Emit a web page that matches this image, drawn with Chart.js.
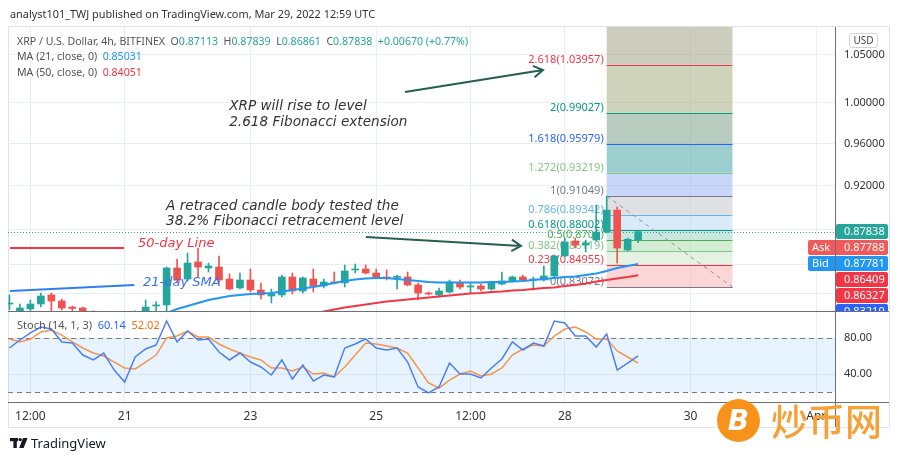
<!DOCTYPE html>
<html>
<head>
<meta charset="utf-8">
<script src="https://cdn.jsdelivr.net/npm/chart.js@4.4.1/dist/chart.umd.min.js"></script>
<style>
  body { margin: 0; width: 900px; height: 460px; position: relative; overflow: hidden; background: #fff; font-family: "Noto Sans", sans-serif; }
  canvas { position: absolute; left: 0; top: 0; }
  .t { position: absolute; white-space: nowrap; line-height: 14px; }
  .lg { font-size: 10.6px; color: #555; }
  .ln { position: absolute; background: #6b6e78; }
  #frame { position: absolute; left: 8px; top: 26px; width: 880px; height: 400px; border: 1px solid #e0e3eb; }
  #usd { position: absolute; left: 849px; top: 33px; width: 27px; height: 13px; border: 1px solid #d1d4dc; border-radius: 3px; font-size: 10px; line-height: 13px; text-align: center; color: #444; background: #fff; }
</style>
</head>
<body>
<div id="frame"></div>
<canvas id="main" width="900" height="460"></canvas>
<canvas id="stoch" width="900" height="460"></canvas>
<div class="ln" style="left:8px;top:311px;width:881px;height:1px"></div>
<div class="ln" style="left:8px;top:402px;width:881px;height:1px"></div>
<div class="ln" style="left:835px;top:27px;width:1px;height:400px"></div>

<div class="t" style="left:10px;top:7px;font-size:10.9px;color:#333">analyst101_TWJ published on TradingView.com, Mar 29, 2022 12:59 UTC</div>
<div class="t lg" id="leg1" style="left:17px;top:34px"></div>
<div class="t lg" id="leg2" style="left:17px;top:49px"></div>
<div class="t lg" id="leg3" style="left:17px;top:65px"></div>
<div class="t lg" id="leg4" style="left:17px;top:318px;font-size:11px"></div>
<div id="usd">USD</div>

<svg style="position:absolute;left:9px;top:436px" width="20" height="14" viewBox="0 0 20 14">
  <rect x="1" y="2" width="8" height="3.2" fill="#131722"/>
  <rect x="4.4" y="2" width="3.4" height="10" fill="#131722"/>
  <circle cx="11.2" cy="3.6" r="1.7" fill="#131722"/>
  <polygon points="14,2 18.6,2 14.6,12 10.2,12" fill="#131722"/>
</svg>
<div class="t" style="left:31px;top:436px;font-size:13px;color:#131722">TradingView</div>

<div style="position:absolute;left:717px;top:399px;width:43px;height:43px;border-radius:50%;background:#f7931a;color:#fff;font:italic bold 28px 'DejaVu Sans',sans-serif;line-height:43px;text-align:center">B</div>
<div class="t" style="left:771px;top:398px;font-size:37px;line-height:44px;color:#f7a035;font-family:'Noto Sans CJK SC';font-weight:500">炒币网</div>

<script>
// candles, 4h, first one Mar 19 04:00
const candleOpen = [0.8166, 0.8109, 0.8125, 0.8166, 0.8241, 0.8191, 0.8141, 0.8133, 0.8105, 0.8010,
  0.7960, 0.7880, 0.7970, 0.8060, 0.8150, 0.8158, 0.8468, 0.8374, 0.8519, 0.8468,
  0.8476, 0.8374, 0.8299, 0.8366, 0.8282, 0.8232, 0.8241, 0.8391, 0.8274, 0.8374,
  0.8316, 0.8349, 0.8341, 0.8451, 0.8459, 0.8425, 0.8391, 0.8387, 0.8391, 0.8324,
  0.8257, 0.8241, 0.8265, 0.8341, 0.8307, 0.8316, 0.8290, 0.8332, 0.8358, 0.8391,
  0.8366, 0.8366, 0.8400, 0.8571, 0.8701, 0.8666, 0.8710, 0.8780, 0.8977, 0.8623, 0.87113];
const candleHigh = [0.8241, 0.8166, 0.8199, 0.8257, 0.8257, 0.8207, 0.8150, 0.8141, 0.8110, 0.8040,
  0.7990, 0.7990, 0.8110, 0.8199, 0.8183, 0.8476, 0.8545, 0.8597, 0.8640, 0.8510,
  0.8571, 0.8417, 0.8425, 0.8459, 0.8341, 0.8290, 0.8408, 0.8425, 0.8391, 0.8459,
  0.8374, 0.8434, 0.8493, 0.8502, 0.8493, 0.8459, 0.8451, 0.8408, 0.8434, 0.8341,
  0.8265, 0.8299, 0.8366, 0.8366, 0.8341, 0.8332, 0.8349, 0.8434, 0.8400, 0.8408,
  0.8391, 0.8485, 0.8579, 0.8727, 0.8727, 0.8710, 0.9022, 0.9105, 0.9004, 0.8727, 0.87839];
const candleLow = [0.8117, 0.8101, 0.8109, 0.8141, 0.8109, 0.8117, 0.8109, 0.8084, 0.7980, 0.7930,
  0.7850, 0.7840, 0.7950, 0.8030, 0.8109, 0.8109, 0.8349, 0.8358, 0.8391, 0.8434,
  0.8341, 0.8282, 0.8290, 0.8265, 0.8207, 0.8174, 0.8224, 0.8249, 0.8257, 0.8265,
  0.8299, 0.8332, 0.8307, 0.8425, 0.8417, 0.8383, 0.8366, 0.8290, 0.8316, 0.8199,
  0.8241, 0.8224, 0.8257, 0.8290, 0.8257, 0.8274, 0.8282, 0.8324, 0.8349, 0.8358,
  0.8282, 0.8358, 0.8391, 0.8562, 0.8640, 0.8605, 0.8701, 0.8772, 0.8510, 0.8614, 0.86861];
const candleClose = [0.8170, 0.8133, 0.8166, 0.8232, 0.8191, 0.8133, 0.8129, 0.8109, 0.8010, 0.7960,
  0.7880, 0.7970, 0.8060, 0.8141, 0.8158, 0.8468, 0.8366, 0.8510, 0.8476, 0.8485,
  0.8366, 0.8290, 0.8366, 0.8282, 0.8241, 0.8249, 0.8391, 0.8274, 0.8383, 0.8316,
  0.8349, 0.8341, 0.8442, 0.8459, 0.8425, 0.8391, 0.8383, 0.8396, 0.8324, 0.8257,
  0.8249, 0.8274, 0.8349, 0.8307, 0.8316, 0.8290, 0.8341, 0.8358, 0.8391, 0.8366,
  0.8374, 0.8400, 0.8571, 0.8692, 0.8666, 0.8684, 0.8780, 0.8977, 0.8640, 0.87168, 0.87838];

const ma21 = [null, null, null, null, null, null, null, null, null, null, null, null, null, null,
  0.8052, 0.8092, 0.8125, 0.8150, 0.8174, 0.8199, 0.8216, 0.8232, 0.8241, 0.8249,
  0.8253, 0.8257, 0.8270, 0.8282, 0.8295, 0.8307, 0.8324, 0.8341, 0.8358, 0.8370,
  0.8379, 0.8383, 0.8383, 0.8374, 0.8366, 0.8358, 0.8349, 0.8345, 0.8345, 0.8345,
  0.8345, 0.8345, 0.8349, 0.8349, 0.8353, 0.8358, 0.8366, 0.8374, 0.8383, 0.8391,
  0.8396, 0.8408, 0.8421, 0.8442, 0.8468, 0.8485, 0.85031];
const ma50 = [null, null, null, null, null, null, null, null, null, null, null, null, null, null, null,
  null, null, null, null, null, null, null, null, null, null, null, null, null, null,
  0.8076, 0.8105, 0.8121, 0.8137, 0.8150, 0.8162, 0.8174, 0.8187, 0.8195, 0.8203,
  0.8212, 0.8220, 0.8228, 0.8236, 0.8245, 0.8253, 0.8257, 0.8265, 0.8270, 0.8278,
  0.8282, 0.8290, 0.8299, 0.8303, 0.8316, 0.8324, 0.8337, 0.8353, 0.8366, 0.8379,
  0.8391, 0.84051];

const stochK = [68.9, 77.8, 85.6, 92.2, 90, 75.6, 74.4, 61.1, 55.6, 63.3,
  44.4, 31.1, 58.9, 67.8, 72.2, 98.9, 75.6, 87.8, 77.8, 78.9,
  64.4, 55.6, 63.3, 53.3, 47.8, 38.9, 55.6, 34.4, 50, 32.2,
  38.9, 36.7, 68.9, 73.3, 78.9, 68.9, 66.7, 68.9, 53.3, 25.6,
  18.9, 25.6, 52.2, 40, 40, 35.6, 46.7, 56.7, 75.6, 66.7,
  74.4, 71.1, 98.9, 96.7, 82.2, 82.2, 70, 84.4, 44.4, 52.2, 60.14];
const stochD = [78.9, 75.6, 78.9, 86.7, 88.9, 83.3, 75.6, 68.9, 63.3, 60,
  53.3, 46.7, 45.6, 53.3, 61.1, 80, 82.2, 87.8, 81.1, 81.1,
  73.3, 67.8, 63.3, 58.9, 55.6, 46.7, 46.7, 43.3, 47.8, 40,
  41.1, 36.7, 47.8, 61.1, 74.4, 73.3, 71.1, 68.9, 63.3, 46.7,
  30, 24.4, 33.3, 40, 43.3, 37.8, 40, 46.7, 61.1, 67.8,
  72.2, 71.1, 82.2, 90, 92.2, 86.7, 78.9, 78.9, 65.6, 58.9, 52.02];

// x axis in days from Mar 19 00:00
const xTickVals = [0.5, 2, 4, 6, 7.5, 9, 11, 13];
const xTickText = ['12:00', '21', '23', '25', '12:00', '28', '30', 'Apr'];
const yTickVals = [0.825, 0.85, 0.88, 0.92, 0.96, 1.00, 1.05];
const yTickShown = [0.92, 0.96, 1.00, 1.05];
const stochTicks = [40, 80];

const fibRatios = [0, 0.236, 0.382, 0.5, 0.618, 0.786, 1, 1.272, 1.618, 2, 2.618, 3.618];
const fibPrices = [0.83072, 0.84955, 0.86119, 0.8706, 0.88002, 0.89342, 0.91049, 0.93219, 0.95979, 0.99027, 1.03957, 1.11934];
const fibLineColors = ['#787b86', '#f23645', '#81c784', '#4caf50', '#089981', '#64b5f6', '#787b86', '#81c784', '#2962ff', '#089981', '#f23645', '#9c27b0'];
const fibFills = ['rgba(249,173,173,0.5)', 'rgba(201,229,201,0.5)', 'rgba(169,217,169,0.5)', 'rgba(147,205,191,0.5)',
  'rgba(179,213,243,0.5)', 'rgba(193,193,197,0.5)', 'rgba(145,173,245,0.5)', 'rgba(59,159,159,0.5)',
  'rgba(115,153,129,0.5)', 'rgba(161,167,121,0.5)', 'rgba(155,155,123,0.5)'];
const fibStart = 9.6667, fibEnd = 11.6667;

const tagValues = ['0.87838', '0.87788', '0.87781', '0.86409', '0.86327', '0.83219'];
const tagNames = ['', 'Ask', 'Bid', '', '', ''];
const tagColors = ['#26a69a', '#f05a5a', '#2196f3', '#f23645', '#f23645', '#2962ff'];

const X_MIN = 0.1438, X_MAX = 13.298;
const P_MIN = 0.81085, P_MAX = 1.07962;
const GRID = '#e9eef5';
const UP = '#26a69a', DOWN = '#ef5350';

const n = candleOpen.length;
const times = candleOpen.map((_, i) => (4 + 4 * i) / 24);
const candleColor = candleClose.map((c, i) => c >= candleOpen[i] ? UP : DOWN);
const last = n - 1;

// legends
const g = v => `<span style="color:#26a69a">${v}</span>`;
const chg = candleClose[last] - candleClose[last - 1];
document.getElementById('leg1').innerHTML =
  `XRP / U.S. Dollar, 4h, BITFINEX&nbsp; O${g(candleOpen[last].toFixed(5))}&nbsp; H${g(candleHigh[last].toFixed(5))}&nbsp; ` +
  `L${g(candleLow[last].toFixed(5))}&nbsp; C${g(candleClose[last].toFixed(5))}&nbsp; ` +
  g(`+${chg.toFixed(5)} (+${(chg / candleClose[last - 1] * 100).toFixed(2)}%)`);
document.getElementById('leg2').innerHTML = `MA (21, close, 0)&nbsp; <span style="color:#2196f3">${ma21[last].toFixed(5)}</span>`;
document.getElementById('leg3').innerHTML = `MA (50, close, 0)&nbsp; <span style="color:#f23645">${ma50[last].toFixed(5)}</span>`;
document.getElementById('leg4').innerHTML = `Stoch (14, 1, 3)&nbsp; <span style="color:#2962ff">${stochK[last].toFixed(2)}</span>&nbsp; <span style="color:#ff6d00">${stochD[last].toFixed(2)}</span>`;

function arrow(ctx, x1, y1, x2, y2) {
  const a = Math.atan2(y2 - y1, x2 - x1), L = 11;
  ctx.beginPath();
  ctx.moveTo(x1, y1);
  ctx.lineTo(x2, y2);
  ctx.moveTo(x2 - L * Math.cos(a - 0.55), y2 - L * Math.sin(a - 0.55));
  ctx.lineTo(x2, y2);
  ctx.lineTo(x2 - L * Math.cos(a + 0.55), y2 - L * Math.sin(a + 0.55));
  ctx.stroke();
}

const fibPlugin = {
  id: 'fib',
  beforeDatasetsDraw(chart) {
    const { ctx, chartArea: a, scales: { x, y } } = chart;
    ctx.save();
    ctx.beginPath();
    ctx.rect(a.left, a.top, a.right - a.left, a.bottom - a.top);
    ctx.clip();
    const x0 = x.getPixelForValue(fibStart), x1 = x.getPixelForValue(fibEnd);
    for (let i = 0; i < fibPrices.length - 1; i++) {
      const ya = y.getPixelForValue(fibPrices[i]), yb = y.getPixelForValue(fibPrices[i + 1]);
      ctx.fillStyle = fibFills[i];
      ctx.fillRect(x0, yb, x1 - x0, ya - yb);
    }
    ctx.font = '11px "Noto Sans"';
    ctx.textAlign = 'right';
    ctx.textBaseline = 'alphabetic';
    fibPrices.forEach((p, i) => {
      const yy = Math.round(y.getPixelForValue(p)) + 0.5;
      ctx.strokeStyle = fibLineColors[i];
      ctx.lineWidth = 1;
      ctx.beginPath(); ctx.moveTo(x0, yy); ctx.lineTo(x1, yy); ctx.stroke();
      ctx.fillStyle = fibLineColors[i];
      ctx.fillText(`${fibRatios[i]}(${p})`, x0 - 3, yy - 3);
    });
    // trend line of the tool
    ctx.strokeStyle = '#8f929b';
    ctx.setLineDash([4, 4]);
    ctx.beginPath();
    ctx.moveTo(x0, y.getPixelForValue(fibPrices[6]));
    ctx.lineTo(x1, y.getPixelForValue(fibPrices[0]));
    ctx.stroke();
    // last price line
    ctx.strokeStyle = UP;
    ctx.setLineDash([1, 2]);
    const yp = Math.round(y.getPixelForValue(candleClose[last])) + 0.5;
    ctx.beginPath(); ctx.moveTo(a.left, yp); ctx.lineTo(a.right, yp); ctx.stroke();
    ctx.restore();
  },
  afterDraw(chart) {
    const { ctx, chartArea: a, scales: { x, y } } = chart;
    const P = (d, p) => [x.getPixelForValue(d), y.getPixelForValue(p)];
    ctx.save();
    ctx.beginPath();
    ctx.rect(a.left, a.top, a.right - a.left, a.bottom - a.top);
    ctx.clip();
    // arrows
    ctx.strokeStyle = '#245f4f';
    ctx.lineWidth = 2;
    arrow(ctx, ...P(6.458, 1.0112), ...P(8.653, 1.0338));
    arrow(ctx, ...P(5.837, 0.8736), ...P(8.303, 0.8658));
    // 50-day / 21-day marker lines
    ctx.strokeStyle = '#f23645';
    ctx.beginPath(); ctx.moveTo(...P(0.176, 0.8640)); ctx.lineTo(...P(1.989, 0.8640)); ctx.stroke();
    ctx.strokeStyle = '#2f7ef0';
    ctx.beginPath(); ctx.moveTo(...P(0.176, 0.8274)); ctx.lineTo(...P(2.154, 0.8324)); ctx.stroke();
    // notes
    ctx.font = 'italic 13.6px "DejaVu Sans"';
    ctx.textAlign = 'left';
    ctx.textBaseline = 'middle';
    ctx.fillStyle = '#333';
    ctx.fillText('XRP will rise to level', ...P(3.662, 0.99698));
    ctx.fillText('2.618 Fibonacci extension', ...P(3.662, 0.98103));
    ctx.fillText('A retraced candle body tested the', ...P(2.658, 0.9013));
    ctx.fillText('38.2% Fibonacci retracement level', ...P(2.658, 0.8877));
    ctx.font = 'italic 13px "DejaVu Sans"';
    ctx.fillStyle = '#f23645';
    ctx.fillText('50-day Line', ...P(2.212, 0.8675));
    ctx.fillStyle = '#3a6ef0';
    ctx.fillText('21-day SMA', ...P(2.29, 0.8341));
    ctx.restore();

    // price tags on the axis
    ctx.save();
    ctx.beginPath();
    ctx.rect(0, a.top, 900, a.bottom - a.top);
    ctx.clip();
    ctx.font = '11px "Noto Sans"';
    ctx.textBaseline = 'middle';
    const y0 = y.getPixelForValue(candleClose[last]);
    tagValues.forEach((v, i) => {
      const cy = Math.round(y0 + i * 16);
      const left = tagNames[i] ? a.right - 27 : a.right + 1;
      ctx.fillStyle = tagColors[i];
      ctx.beginPath();
      ctx.roundRect(left, cy - 8, 888 - left, 15, 2);
      ctx.fill();
      ctx.fillStyle = '#fff';
      ctx.textAlign = 'left';
      ctx.fillText(v, a.right + 9, cy);
      if (tagNames[i]) ctx.fillText(tagNames[i], left + 4, cy);
    });
    ctx.restore();
  }
};

new Chart(document.getElementById('main'), {
  type: 'bar',
  data: {
    datasets: [
      { type: 'line', data: times.map((t, i) => ({ x: t, y: ma21[i] })), borderColor: '#2196f3', borderWidth: 2, pointRadius: 0 },
      { type: 'line', data: times.map((t, i) => ({ x: t, y: ma50[i] })), borderColor: '#f23645', borderWidth: 2, pointRadius: 0 },
      { data: times.map((t, i) => ({ x: t, y: [candleOpen[i], candleClose[i]] })), backgroundColor: candleColor, barThickness: 7, minBarLength: 1, grouped: false },
      { data: times.map((t, i) => ({ x: t, y: [candleLow[i], candleHigh[i]] })), backgroundColor: candleColor, barThickness: 1, grouped: false }
    ]
  },
  options: {
    responsive: false,
    animation: false,
    layout: { padding: { left: 8, top: 27, right: 11, bottom: 149 } },
    plugins: { legend: { display: false }, tooltip: { enabled: false } },
    scales: {
      x: {
        type: 'linear', min: X_MIN, max: X_MAX, offset: false, bounds: 'data',
        afterBuildTicks: s => { s.ticks = xTickVals.map(v => ({ value: v })); },
        afterFit: s => { s.height = 0; },
        ticks: { display: false },
        grid: { color: GRID, offset: false, drawTicks: false },
        border: { display: false }
      },
      y: {
        type: 'logarithmic', position: 'right', min: P_MIN, max: P_MAX, bounds: 'data',
        afterBuildTicks: s => { s.ticks = yTickVals.map(v => ({ value: v })); },
        afterFit: s => { s.width = 54; },
        ticks: {
          callback: v => yTickShown.includes(v) ? v.toFixed(5) : '',
          color: '#333', font: { size: 11, family: 'Noto Sans' }, padding: 9, autoSkip: false
        },
        grid: { color: GRID, drawTicks: false },
        border: { display: false }
      }
    }
  },
  plugins: [fibPlugin]
});

const stochBand = {
  id: 'stochBand',
  beforeDatasetsDraw(chart) {
    const { ctx, chartArea: a, scales: { y } } = chart;
    const y80 = Math.round(y.getPixelForValue(80)) + 0.5, y20 = Math.round(y.getPixelForValue(20)) + 0.5;
    ctx.save();
    ctx.fillStyle = 'rgba(33,150,243,0.11)';
    ctx.fillRect(a.left, y80, a.right - a.left, y20 - y80);
    ctx.strokeStyle = '#787b86';
    ctx.setLineDash([5, 4]);
    ctx.beginPath();
    ctx.moveTo(a.left, y80); ctx.lineTo(a.right, y80);
    ctx.moveTo(a.left, y20); ctx.lineTo(a.right, y20);
    ctx.stroke();
    ctx.restore();
  }
};

new Chart(document.getElementById('stoch'), {
  type: 'line',
  data: {
    datasets: [
      { data: times.map((t, i) => ({ x: t, y: stochK[i] })), borderColor: '#4d7ff2', borderWidth: 1.5, pointRadius: 0 },
      { data: times.map((t, i) => ({ x: t, y: stochD[i] })), borderColor: '#f5964a', borderWidth: 1.5, pointRadius: 0 }
    ]
  },
  options: {
    responsive: false,
    animation: false,
    layout: { padding: { left: 8, top: 312, right: 11, bottom: 33 } },
    plugins: { legend: { display: false }, tooltip: { enabled: false } },
    scales: {
      x: {
        type: 'linear', min: X_MIN, max: X_MAX, bounds: 'data',
        afterBuildTicks: s => { s.ticks = xTickVals.map(v => ({ value: v })); },
        afterFit: s => { s.height = 25; },
        ticks: { callback: (v, i) => xTickText[i], color: '#333', font: { size: 12, family: 'Noto Sans' }, padding: 7, maxRotation: 0, autoSkip: false },
        grid: { color: GRID, drawTicks: false },
        border: { display: false }
      },
      y: {
        type: 'linear', position: 'right', min: 8.9, max: 108.9, bounds: 'data',
        afterBuildTicks: s => { s.ticks = stochTicks.map(v => ({ value: v })); },
        afterFit: s => { s.width = 54; },
        ticks: { callback: v => v.toFixed(2), color: '#333', font: { size: 11, family: 'Noto Sans' }, padding: 9 },
        grid: { color: GRID, drawTicks: false },
        border: { display: false }
      }
    }
  },
  plugins: [stochBand]
});
</script>
</body>
</html>
